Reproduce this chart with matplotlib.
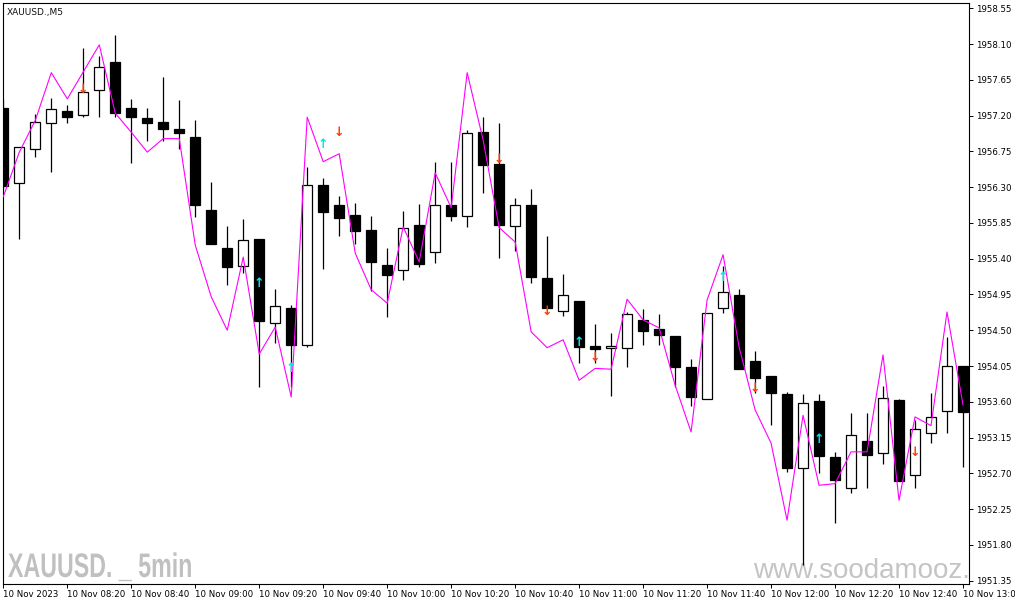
import matplotlib
matplotlib.use("Agg")
import matplotlib.pyplot as plt
from matplotlib.patheffects import AbstractPathEffect
from matplotlib.transforms import Affine2D
import numpy as np

plt.rcParams['font.family'] = ['DejaVu Sans']

# ---------------- data ----------------
chart_title = "XAUUSD.,M5"
watermark_left = "XAUUSD. _ 5min"
watermark_right = "www.soodamooz.com"

times = ["%02d:%02d" % (8 + (5 * k) // 60, (5 * k) % 60) for k in range(61)]
date_label = "10 Nov"
first_label = "10 Nov 2023"

opens = [1957.30, 1956.35, 1956.78, 1957.11, 1957.26, 1957.21, 1957.52, 1957.87, 1957.30, 1957.17,
         1957.12, 1957.03, 1956.93, 1956.01, 1955.53, 1955.31, 1955.65, 1954.59, 1954.78, 1954.31,
         1956.33, 1956.08, 1955.95, 1955.76, 1955.32, 1955.26, 1955.82, 1955.48, 1956.08, 1955.94,
         1956.99, 1956.59, 1955.81, 1956.08, 1955.16, 1954.74, 1954.87, 1954.30, 1954.28, 1954.28,
         1954.63, 1954.52, 1954.43, 1954.04, 1953.64, 1954.78, 1954.94, 1954.11, 1953.92, 1953.70,
         1952.77, 1953.61, 1952.91, 1952.52, 1953.11, 1952.96, 1953.62, 1952.68, 1953.21, 1953.48,
         1954.05]
highs = [1957.41, 1956.80, 1957.22, 1957.42, 1957.33, 1958.05, 1957.95, 1958.21, 1957.41, 1957.30,
         1957.69, 1957.40, 1957.14, 1956.36, 1955.81, 1955.90, 1955.65, 1955.02, 1954.82, 1956.55,
         1956.42, 1956.19, 1956.10, 1955.94, 1955.53, 1956.00, 1956.09, 1956.62, 1956.62, 1957.02,
         1957.18, 1957.11, 1956.16, 1956.28, 1955.69, 1955.21, 1954.87, 1954.58, 1954.47, 1954.73,
         1954.77, 1954.70, 1954.43, 1954.14, 1954.72, 1955.31, 1955.02, 1954.24, 1953.92, 1953.72,
         1953.70, 1953.70, 1952.97, 1953.46, 1953.46, 1953.80, 1953.64, 1953.37, 1953.71, 1954.42,
         1954.05]
lows = [1956.26, 1955.65, 1956.68, 1956.49, 1957.11, 1957.18, 1957.18, 1957.18, 1956.60, 1956.88,
        1956.88, 1956.78, 1955.92, 1955.59, 1955.07, 1955.22, 1953.79, 1954.34, 1953.79, 1954.29,
        1955.27, 1955.69, 1955.59, 1954.99, 1954.67, 1955.13, 1955.30, 1955.35, 1955.87, 1955.80,
        1956.23, 1955.41, 1955.50, 1955.09, 1954.78, 1954.68, 1954.09, 1954.09, 1953.67, 1954.04,
        1954.31, 1954.31, 1953.79, 1953.55, 1953.64, 1954.72, 1954.01, 1953.71, 1953.31, 1952.72,
        1951.55, 1952.70, 1952.08, 1952.45, 1952.52, 1952.82, 1952.60, 1952.52, 1953.08, 1953.21,
        1952.78]
closes = [1956.31, 1956.80, 1957.12, 1957.28, 1957.18, 1957.50, 1957.81, 1957.23, 1957.18, 1957.11,
          1957.03, 1956.98, 1956.08, 1955.59, 1955.30, 1955.64, 1954.62, 1954.81, 1954.31, 1956.33,
          1955.99, 1955.91, 1955.75, 1955.36, 1955.19, 1955.79, 1955.33, 1956.08, 1955.94, 1956.98,
          1956.58, 1955.82, 1956.08, 1955.17, 1954.78, 1954.94, 1954.29, 1954.26, 1954.30, 1954.70,
          1954.49, 1954.44, 1954.04, 1953.66, 1954.72, 1954.98, 1954.01, 1953.90, 1953.71, 1952.77,
          1953.59, 1952.92, 1952.62, 1953.18, 1952.93, 1953.65, 1952.60, 1953.26, 1953.41, 1954.05,
          1953.47]
indicator = [1956.18, 1956.74, 1957.14, 1957.74, 1957.41, 1957.75, 1958.09, 1957.23, 1956.99, 1956.74,
             1956.91, 1956.91, 1955.57, 1954.92, 1954.50, 1955.42, 1954.20, 1954.54, 1953.66, 1957.18,
             1956.62, 1956.72, 1955.47, 1955.01, 1954.84, 1955.80, 1955.36, 1956.48, 1956.04, 1957.74,
             1956.89, 1955.79, 1955.61, 1954.48, 1954.28, 1954.38, 1953.87, 1954.02, 1954.01, 1954.89,
             1954.63, 1954.53, 1953.81, 1953.22, 1954.88, 1955.45, 1954.29, 1953.50, 1953.08, 1952.11,
             1953.43, 1952.55, 1952.57, 1952.97, 1952.97, 1954.19, 1952.36, 1953.41, 1953.30, 1954.73,
             1953.56]
sell_idx = [5, 21, 31, 34, 37, 47, 57]
sell_price = [1957.53, 1956.99, 1956.65, 1954.74, 1954.16, 1953.77, 1952.96]
buy_idx = [16, 18, 20, 36, 45, 51]
buy_price = [1955.09, 1954.02, 1956.84, 1954.35, 1955.16, 1953.13]

ytick_values = [1958.55, 1958.10, 1957.65, 1957.20, 1956.75, 1956.30, 1955.85, 1955.40, 1954.95,
                1954.50, 1954.05, 1953.60, 1953.15, 1952.70, 1952.25, 1951.80, 1951.35]


class HSqueeze(AbstractPathEffect):
    """Draw text glyphs squeezed horizontally about a fixed display x."""
    def __init__(self, sx, x0):
        super().__init__()
        self.sx = sx
        self.x0 = x0

    def draw_path(self, renderer, gc, tpath, affine, rgbFace=None):
        t = affine + Affine2D().translate(-self.x0, 0).scale(self.sx, 1.0).translate(self.x0, 0)
        renderer.draw_path(gc, tpath, t, rgbFace)


# ---------------- figure ----------------
W, H = 1015, 605
fig = plt.figure(figsize=(W / 100, H / 100), dpi=100)
fig.patch.set_facecolor('white')
ax = fig.add_axes([3 / W, (H - 584) / H, (969 - 3) / W, (584 - 3) / H])
ax.set_facecolor('white')

x = np.arange(len(opens))
o = np.array(opens); c = np.array(closes); h = np.array(highs); l = np.array(lows)
up = c >= o

# wicks
ax.vlines(x, l, h, color='black', linewidth=0.9, zorder=2)
# bodies
body_w = 0.62
bottoms = np.minimum(o, c)
heights = np.maximum(np.abs(c - o), 0.012)
ax.bar(x[up], heights[up], bottom=bottoms[up], width=body_w, facecolor='white',
       edgecolor='black', linewidth=0.9, zorder=3)
ax.bar(x[~up], heights[~up], bottom=bottoms[~up], width=body_w, facecolor='black',
       edgecolor='black', linewidth=0.9, zorder=3)

# indicator line
ax.plot(x, indicator, color='#FF00FF', linewidth=0.8, zorder=4)

# arrows
for i, p in zip(sell_idx, sell_price):
    ax.text(i, p, "\u2193", color='#FF3A00', fontsize=9, ha='center', va='center',
            fontweight='bold', zorder=5)
for i, p in zip(buy_idx, buy_price):
    ax.text(i, p, "\u2191", color='#00E5F0', fontsize=9, ha='center', va='center',
            fontweight='bold', zorder=5)

# limits
ax.set_xlim(-0.02, 60.375)
ax.set_ylim(1951.308, 1958.616)

# y axis on right
ax.yaxis.tick_right()
ax.set_yticks(ytick_values)
ax.set_yticklabels(["%.2f" % v for v in ytick_values])
for lab in ax.get_yticklabels():
    lab.set_horizontalalignment('left')
ax.tick_params(axis='y', direction='out', length=3, width=0.7, pad=2, labelsize=6.2,
               colors='black')

# x axis
xt = list(range(0, len(times), 4))
ax.set_xticks(xt)
ax.set_xticklabels([first_label if k == 0 else date_label + " " + times[k] for k in xt])
for lab in ax.get_xticklabels():
    lab.set_horizontalalignment('left')
ax.tick_params(axis='x', direction='out', length=3, width=0.7, pad=1.5, labelsize=6.2,
               colors='black')

for s in ax.spines.values():
    s.set_linewidth(0.8)
    s.set_color('black')

# title
ax.text(0.004, 0.992, chart_title, transform=ax.transAxes, fontsize=6.5, ha='left', va='top',
        color='#111111')

# watermarks
wl = fig.text(8 / W, (H - 577) / H, watermark_left, fontsize=24.5, fontweight='bold',
              family=['Liberation Sans', 'DejaVu Sans'], color='#C0C0C0',
              ha='left', va='baseline', zorder=0)
fig.canvas.draw()
wl_width = wl.get_window_extent(fig.canvas.get_renderer()).width
wl.set_path_effects([HSqueeze(184.0 / wl_width, 8.0)])

ax.text((753 - 3) / 966, (584 - 578) / 581, watermark_right, transform=ax.transAxes,
        fontsize=20, family=['Liberation Sans'], color='#C4C4C4', ha='left', va='baseline',
        clip_on=True, zorder=1)

fig.savefig("out.png", dpi=100, facecolor='white')
